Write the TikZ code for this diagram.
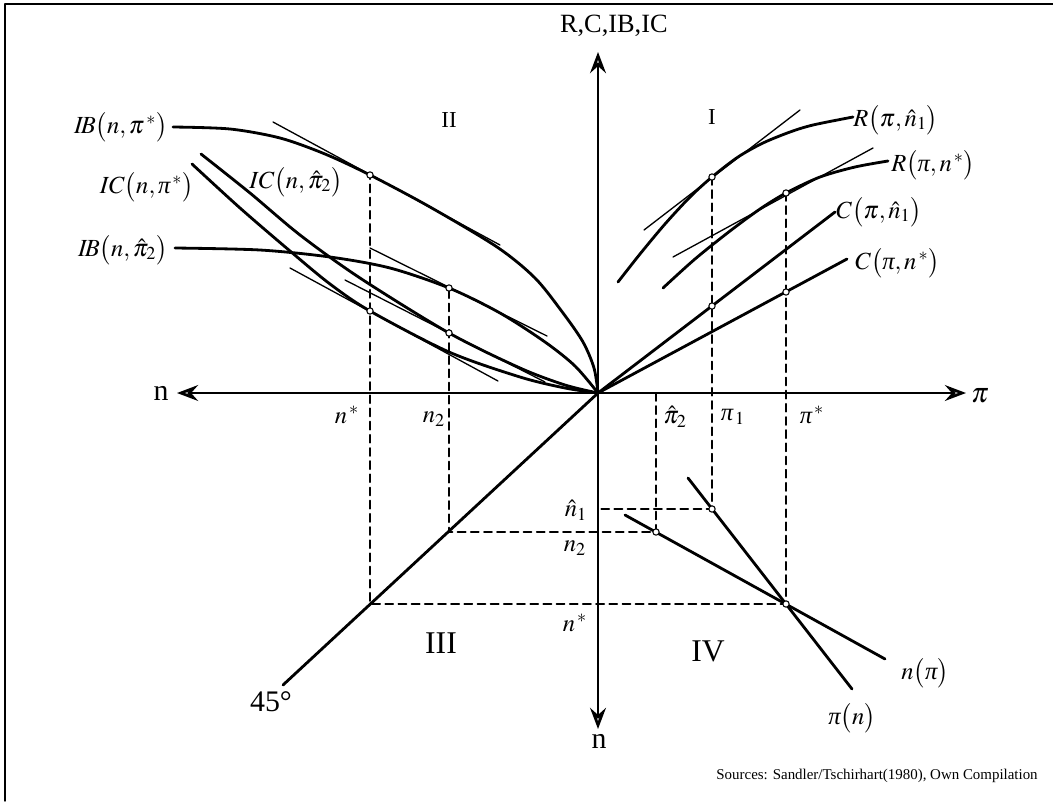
\documentclass[tikz,border=0pt]{standalone}
\usepackage{mathptmx}
\usepackage[no-math]{fontspec}
\setmainfont{Liberation Serif}
\usetikzlibrary{arrows.meta}
\newcommand{\itpi}{\textit{π}}
\tikzset{
  ax/.style={line width=1.5pt,
    {Stealth[length=12pt,width=9pt,inset=4pt,fill=gray!60]}-{Stealth[length=12pt,width=9pt,inset=4pt,fill=gray!60]}},
  krv/.style={line width=1.6pt},
  tang/.style={line width=0.75pt},
  aux/.style={line width=1.1pt,dash pattern=on 4.5pt off 3pt},
  pt/.style={circle,draw,fill=white,inner sep=0pt,minimum size=3.6pt,line width=0.6pt},
  lab/.style={inner sep=0pt,font=\fontsize{14}{16}\selectfont},
  qd/.style={inner sep=0pt,font=\fontsize{13}{15}\selectfont},
  qdb/.style={inner sep=0pt,font=\fontsize{18}{20}\selectfont},
}

\begin{document}
\begin{tikzpicture}[x=0.02cm,y=-0.02cm,line join=round,line cap=round]
  \useasboundingbox (0,0) rectangle (1053,801);
  \draw[line width=0.8pt] (5,801) -- (5,4) -- (1053,4);
  \coordinate (O) at (598,393);
  \coordinate (wt) at (177,393); \coordinate (et) at (966,393);
  \coordinate (nt) at (598,52); \coordinate (st) at (598,729);
  \coordinate (r1) at (712,177); \coordinate (r2) at (786,193);
  \coordinate (c1) at (712,306); \coordinate (c2) at (786,292);
  \coordinate (b1) at (370,175); \coordinate (b2) at (449,288);
  \coordinate (k1) at (370,311); \coordinate (k2) at (449,333);
  \coordinate (d1) at (370,604); \coordinate (d2) at (449,532);
  \coordinate (q1) at (712,509); \coordinate (q2) at (656,532); \coordinate (q3) at (786,604);
  \coordinate (a2) at (656,393); \coordinate (e1) at (598,509);
  \coordinate (c1e) at (835,212); \coordinate (c2e) at (847,259);
  \coordinate (fe) at (283,685);
  \coordinate (pa) at (688,478); \coordinate (pb) at (852,689);
  \coordinate (na) at (625,515); \coordinate (nb) at (885,659);

  \draw[aux] (r1) -- (q1) -- (e1);
  \draw[aux] (r2) -- (q3) -- (d1) -- (b1);
  \draw[aux] (a2) -- (q2) -- (d2) -- (b2);

  \draw[ax] (wt) -- (et);
  \draw[ax] (st) -- (nt);

  % quadrant I
  \draw[krv] plot[smooth] coordinates {(618,282) (640,254) (665,224) (690,197) (712,177) (738,157) (763,143) (790,132) (813,125) (853,117)};
  \draw[krv] plot[smooth] coordinates {(663,288) (695,259) (730,231) (760,209) (786,193) (820,177) (855,167) (888,161)};
  \draw[tang] (644,230) -- (800,110);
  \draw[tang] (673,257) -- (873,148);
  \draw[krv] (O) -- (c1e);
  \draw[krv] (O) -- (c2e);
  % quadrant II
  \draw[krv] plot[smooth] coordinates {(173,127) (230,129) (280,138) (325,154) (370,175) (430,207) (497,247) (535,278) (563,313) (583,342) (594,368) (598,393)};
  \draw[krv] plot[smooth] coordinates {(175,248) (260,250) (330,257) (390,268) (449,288) (500,313) (545,342) (575,366) (598,393)};
  \draw[krv] plot[smooth] coordinates {(201,154) (250,193) (300,235) (360,278) (449,333) (520,368) (565,385) (598,393)};
  \draw[krv] plot[smooth] coordinates {(192,164) (240,208) (290,251) (330,284) (370,311) (449,352) (520,377) (565,388) (598,393)};
  \draw[tang] (273,122) -- (500,245);
  \draw[tang] (370,248) -- (547,336);
  \draw[tang] (345,280) -- (545,382);
  \draw[tang] (290,268) -- (498,381);
  % quadrants III and IV
  \draw[krv] (O) -- (fe);
  \draw[krv] (pa) -- (pb);
  \draw[krv] (na) -- (nb);

  \node[pt] (r1p) at (r1) {}; \node[pt] (r2p) at (r2) {};
  \node[pt] (c1p) at (c1) {}; \node[pt] (c2p) at (c2) {};
  \node[pt] (b1p) at (b1) {}; \node[pt] (b2p) at (b2) {};
  \node[pt] (k1p) at (k1) {}; \node[pt] (k2p) at (k2) {};
  \node[pt] (q1p) at (q1) {}; \node[pt] (q2p) at (q2) {}; \node[pt] (q3p) at (q3) {};

  \node[inner sep=0pt,anchor=east,font=\fontsize{15}{17}\selectfont] (ttl) at (668,26) {R,C,IB,IC};
  \node[inner sep=0pt,font=\fontsize{17}{19}\selectfont] (nw) at (161,393) {n};
  \node[inner sep=0pt,font=\fontsize{16}{18}\selectfont] (pie) at (980,396) {$\pi$};
  \node[inner sep=0pt,font=\fontsize{17}{19}\selectfont] (ns) at (599,741) {n};

  \node[lab,anchor=west] (Rn1) at (853,120) {$R\bigl(\pi,\hat{n}_1\bigr)$};
  \node[lab,anchor=west] (Rns) at (891,165) {$R\bigl(\itpi,n^{\,*}\bigr)$};
  \node[lab,anchor=west] (Cn1) at (836,212) {$C\bigl(\pi,\hat{n}_1\bigr)$};
  \node[lab,anchor=west] (Cns) at (855,263) {$C\bigl(\itpi,n^{\,*}\bigr)$};
  \node[lab,anchor=east] (IBs) at (168,127) {$I\!B\bigl(n,\pi^{\,*}\bigr)$};
  \node[lab,anchor=east] (ICs) at (194,187) {$IC\bigl(n,\itpi^{\,*}\bigr)$};
  \node[lab,anchor=east] (IB2) at (168,250) {$I\!B\bigl(n,\hat{\pi}_2\bigr)$};
  \node[lab] (IC2) at (296,182) {$IC\bigl(n,\hat{\pi}_2\bigr)$};

  \node[lab] (nsx) at (347,415) {$n^{\,*}$};
  \node[lab] (n2x) at (434,419) {$n_2$};
  \node[lab] (p2x) at (675,417) {$\hat{\pi}_2$};
  \node[lab] (p1x) at (733,417) {$\itpi_{\,1}$};
  \node[lab] (psx) at (812,415) {$\itpi^{\,*}$};
  \node[lab] (n1y) at (576,510) {$\hat{n}_1$};
  \node[lab] (n2y) at (575,548) {$n_2$};
  \node[lab] (nsy) at (575,623) {$n^{\,*}$};
  \node[lab] (npi) at (925,673) {$n\bigl(\itpi\bigr)$};
  \node[lab] (pin) at (852,718) {$\itpi\bigl(n\bigr)$};
  \node[inner sep=0pt,font=\fontsize{17}{19}\selectfont] (deg) at (271,702) {45°};

  \node[qd] (qII) at (449,120) {II};
  \node[qd] (qI) at (712,117) {I};
  \node[qdb] (qIII) at (441,643) {III};
  \node[qdb] (qIV) at (708,651) {IV};

  \node[inner sep=0pt,anchor=east,font=\fontsize{8.5}{10}\selectfont] (src) at (1038,776)
    {Sources: Sandler/Tschirhart(1980), Own Compilation};
\end{tikzpicture}
\end{document}
